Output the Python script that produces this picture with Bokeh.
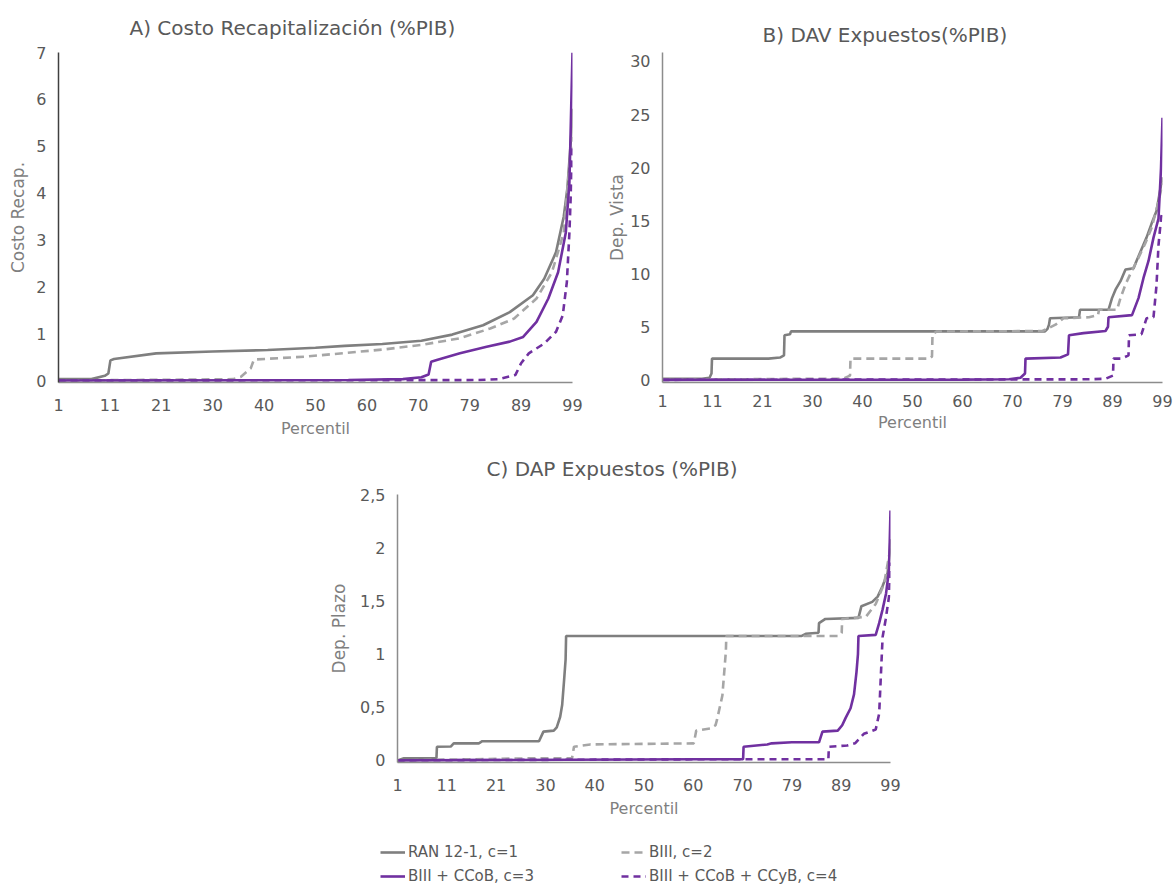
from bokeh.plotting import figure
from bokeh.layouts import row
from bokeh.models import Range1d, FixedTicker, Legend, LegendItem
from bokeh.embed import file_html
from bokeh.resources import INLINE

FONT = "DejaVu Sans"
TXT = "#595959"
AXT = "#7f7f7f"
C_RAN = "#7f7f7f"
C_B3 = "#a6a6a6"
C_PUR = "#7030a0"
STYLES = [(C_RAN, None), (C_B3, "8 5"), (C_PUR, None), (C_PUR, "7 5")]

SERIES_NAMES = ["RAN 12-1, c=1", "BIII, c=2", "BIII + CCoB, c=3", "BIII + CCoB + CCyB, c=4"]
X_TICKS = [0, 10, 20, 30, 40, 50, 60, 70, 80, 90, 100]
X_TICK_LABELS = ["1", "11", "21", "30", "40", "50", "60", "70", "79", "89", "99"]

# ---------------- Panel A: Costo Recapitalizacion ----------------
A_RAN_X = [0, 6.4, 9, 9.7, 10.1, 10.8, 19, 30, 40.7, 50, 55.7, 63, 70.6, 76.6, 82.6, 87.8, 92.3, 94.5, 96.8, 98.3, 99, 99.8, 100]
A_RAN_Y = [0.03, 0.03, 0.1, 0.15, 0.43, 0.46, 0.58, 0.62, 0.65, 0.7, 0.74, 0.78, 0.85, 0.98, 1.18, 1.46, 1.82, 2.17, 2.74, 3.5, 4.1, 5.3, 5.8]
A_B3_X = [0, 25, 34, 35.5, 37.4, 38, 38.5, 48, 63, 70.6, 78, 84, 88.6, 93, 96, 98.3, 99.4, 100]
A_B3_Y = [0, 0.02, 0.03, 0.08, 0.26, 0.44, 0.45, 0.51, 0.66, 0.76, 0.9, 1.11, 1.32, 1.75, 2.31, 3.16, 4.6, 5.2]
A_CCOB_X = [0, 56.4, 67, 70.6, 72, 72.5, 73.6, 78.1, 83.3, 87.8, 90.4, 93, 95.3, 97.2, 98.7, 99.4, 100]
A_CCOB_Y = [0, 0.01, 0.03, 0.07, 0.13, 0.4, 0.44, 0.58, 0.72, 0.83, 0.93, 1.25, 1.75, 2.31, 3.16, 4.22, 7.0]
A_CCYB_X = [0, 81.8, 85.6, 88.9, 90, 91.5, 94.5, 96.8, 98.1, 98.9, 99.4, 100]
A_CCYB_Y = [0, 0.01, 0.03, 0.12, 0.37, 0.58, 0.79, 1.04, 1.39, 2.1, 3.16, 5.0]
A_Y_TICKS = [0, 1, 2, 3, 4, 5, 6, 7]

# ---------------- Panel B: DAV Expuestos ----------------
B_RAN_X = [0, 7.9, 9.4, 9.8, 9.9, 21.2, 23.5, 24.3, 24.4, 25.5, 25.7, 76.5, 77.0, 77.3, 77.5, 83.3, 83.5, 89.2, 89.9, 90.6, 91.6, 92.6, 94.2, 94.8, 95.8, 96.8, 97.8, 98.8, 99.5, 100]
B_RAN_Y = [0.1, 0.1, 0.2, 0.6, 2.0, 2.0, 2.1, 2.3, 4.2, 4.3, 4.57, 4.57, 4.8, 5.2, 5.8, 5.9, 6.6, 6.6, 7.7, 8.5, 9.3, 10.4, 10.5, 11.2, 12.3, 13.4, 14.7, 15.9, 17.8, 19.1]
B_B3_X = [0, 27.8, 36.1, 37.5, 37.6, 53.4, 53.9, 54.0, 54.8, 76.0, 78.6, 80.2, 85.3, 87.1, 87.3, 90.9, 91.6, 92.6, 93.9, 95.2, 96.5, 97.8, 99.2, 100]
B_B3_Y = [0, 0.1, 0.1, 0.4, 2.0, 2.0, 2.2, 4.3, 4.55, 4.6, 5.2, 5.8, 5.9, 6.1, 6.6, 6.6, 7.7, 9.0, 10.3, 11.5, 12.8, 14.3, 16.8, 18.5]
B_CCOB_X = [0, 60, 69.3, 71.6, 72.5, 72.6, 79.6, 81.1, 81.3, 84.2, 88.6, 89.1, 89.2, 93.9, 95.2, 96.2, 97.2, 98.2, 99.2, 99.7, 100]
B_CCOB_Y = [0, 0.02, 0.05, 0.2, 0.6, 2.0, 2.1, 2.4, 4.2, 4.4, 4.6, 5.0, 5.9, 6.1, 7.7, 9.6, 11.2, 13.4, 15.2, 19.9, 24.7]
B_CCYB_X = [0, 84.7, 88.6, 90.1, 90.2, 91.8, 93.2, 93.3, 95.8, 96.8, 98.2, 98.8, 99.2, 99.7, 100]
B_CCYB_Y = [0, 0.05, 0.1, 0.4, 2.0, 2.0, 2.3, 4.2, 4.3, 5.8, 5.9, 8.9, 12.7, 15.2, 16.0]
B_Y_TICKS = [0, 5, 10, 15, 20, 25, 30]

# ---------------- Panel C: DAP Expuestos ----------------
C_RAN_X = [0, 1.3, 7.9, 8.0, 10.8, 11.4, 16.5, 17.2, 28.7, 29.6, 31.7, 32.3, 33.0, 33.4, 33.8, 34.1, 34.2, 82.0, 82.8, 85.4, 85.5, 86.8, 93.5, 94.1, 96.3, 97.4, 98.4, 99.4, 99.8, 100]
C_RAN_Y = [0, 0.02, 0.02, 0.128, 0.13, 0.16, 0.16, 0.18, 0.18, 0.27, 0.28, 0.31, 0.41, 0.52, 0.76, 0.95, 1.17, 1.17, 1.19, 1.2, 1.29, 1.33, 1.34, 1.45, 1.49, 1.54, 1.64, 1.76, 1.92, 2.08]
C_B3_X = [0, 28.3, 35.4, 35.8, 39.1, 60.1, 60.6, 63.5, 64.5, 64.8, 65.9, 66.6, 66.7, 89.5, 90.1, 90.2, 95.0, 97.0, 98.7, 100]
C_B3_Y = [0, 0.02, 0.02, 0.128, 0.15, 0.16, 0.28, 0.3, 0.33, 0.38, 0.61, 1.02, 1.17, 1.17, 1.2, 1.33, 1.35, 1.47, 1.66, 2.0]
C_CCOB_X = [0, 60, 70.1, 70.2, 75.0, 75.9, 80.0, 85.5, 86.2, 89.3, 90.2, 90.9, 91.9, 92.6, 93.1, 93.4, 93.5, 97.0, 97.7, 98.4, 99.1, 99.7, 100]
C_CCOB_Y = [0, 0.01, 0.01, 0.128, 0.15, 0.16, 0.17, 0.17, 0.27, 0.28, 0.33, 0.4, 0.49, 0.62, 0.83, 1.0, 1.17, 1.18, 1.29, 1.42, 1.57, 1.79, 2.35]
C_CCYB_X = [0, 60, 87.4, 87.5, 91.2, 92.8, 94.6, 97.0, 97.7, 98.0, 98.4, 99.0, 99.7, 100]
C_CCYB_Y = [0, 0.01, 0.01, 0.128, 0.14, 0.16, 0.25, 0.29, 0.44, 0.75, 1.16, 1.32, 1.54, 1.86]
C_Y_TICKS = [0, 0.5, 1, 1.5, 2, 2.5]
C_Y_TICK_LABELS = ["0", "0,5", "1", "1,5", "2", "2,5"]

C_SERIES = [(C_RAN_X, C_RAN_Y), (C_B3_X, C_B3_Y), (C_CCOB_X, C_CCOB_Y), (C_CCYB_X, C_CCYB_Y)]


def add_lines(p, series):
    renderers = []
    for (xs, ys), (col, dash) in zip(series, STYLES):
        kw = dict(line_color=col, line_width=2.6)
        if dash:
            kw["line_dash"] = dash
        renderers.append(p.line(xs, ys, **kw))
    return renderers


def make_panel(title, title_offset, title_standoff, ylabel, ylabel_standoff, y_start, y_end,
               y_ticks, y_labels, series, w, h, bl, br, bt, bb, yaxis_color,
               xlab_standoff, xtitle_standoff):
    p = figure(width=w, height=h,
               min_border_left=bl, min_border_right=br, min_border_top=bt, min_border_bottom=bb,
               x_range=Range1d(0, 100), y_range=Range1d(y_start, y_end),
               output_backend="svg", toolbar_location=None, title=title)
    p.outline_line_color = None
    p.border_fill_color = "white"
    p.background_fill_color = "white"
    p.grid.visible = False
    p.title.text_font = FONT
    p.title.text_font_size = "20px"
    p.title.text_font_style = "normal"
    p.title.text_color = TXT
    p.title.align = "left"
    p.title.offset = title_offset
    p.title.standoff = title_standoff

    for ax in (p.xaxis[0], p.yaxis[0]):
        ax.major_tick_line_color = None
        ax.minor_tick_line_color = None
        ax.major_tick_out = 0
        ax.major_tick_in = 0
        ax.major_label_text_font = FONT
        ax.major_label_text_font_size = "16px"
        ax.major_label_text_color = TXT
        ax.axis_label_text_font = FONT
        ax.axis_label_text_font_style = "normal"
        ax.axis_label_text_color = AXT

    p.xaxis.ticker = FixedTicker(ticks=X_TICKS)
    p.xaxis.major_label_overrides = dict(zip(X_TICKS, X_TICK_LABELS))
    p.xaxis.axis_line_color = "#8c8c8c"
    p.xaxis.axis_line_width = 1.5
    p.xaxis.major_label_standoff = xlab_standoff
    p.xaxis.axis_label = "Percentil"
    p.xaxis.axis_label_standoff = xtitle_standoff
    p.xaxis.axis_label_text_font_size = "16px"

    p.yaxis.ticker = FixedTicker(ticks=y_ticks)
    p.yaxis.major_label_overrides = dict(zip(y_ticks, y_labels))
    p.yaxis.axis_line_color = yaxis_color
    p.yaxis.axis_line_width = 1.5
    p.yaxis.major_label_standoff = 12
    p.yaxis.axis_label = ylabel
    p.yaxis.axis_label_standoff = ylabel_standoff
    p.yaxis.axis_label_text_font_size = "17px"

    add_lines(p, series)
    return p


pA = make_panel("A) Costo Recapitalización (%PIB)", 71, 26, "Costo Recap.", 5, -0.042, 7,
                A_Y_TICKS, [str(t) for t in A_Y_TICKS],
                [(A_RAN_X, A_RAN_Y), (A_B3_X, A_B3_Y), (A_CCOB_X, A_CCOB_Y), (A_CCYB_X, A_CCYB_Y)],
                586, 440, 58, 14, 52, 56, "#404040", 16, 5)

pB = make_panel("B) DAV Expuestos(%PIB)", 100, 12, "Dep. Vista", 0, -0.25, 30.843,
                B_Y_TICKS, [str(t) for t in B_Y_TICKS],
                [(B_RAN_X, B_RAN_Y), (B_B3_X, B_B3_Y), (B_CCOB_X, B_CCOB_Y), (B_CCYB_X, B_CCYB_Y)],
                588, 440, 76, 12, 52, 56, "#8c8c8c", 12, 3)

pC = make_panel("C) DAP Expuestos (%PIB)", 89, 28, "Dep. Plazo", 8, -0.02, 2.5,
                C_Y_TICKS, C_Y_TICK_LABELS, C_SERIES,
                910, 380, 397, 20, 54, 56, "#8c8c8c", 16, 5)

# ---------------- Shared legend strip (its lines lie outside its visible range) ----------------
pL = figure(width=1174, height=66, min_border=0, x_range=Range1d(0, 100), y_range=Range1d(-3, -2),
            x_axis_location=None, y_axis_location=None,
            output_backend="svg", toolbar_location=None)
pL.outline_line_color = None
pL.grid.visible = False
pL.border_fill_color = "white"
rL = add_lines(pL, C_SERIES)

legend = Legend(items=[LegendItem(label=n, renderers=[r]) for n, r in zip(SERIES_NAMES, rL)],
                orientation="horizontal", ncols=2, location=(380, 1),
                border_line_color=None, background_fill_alpha=0,
                padding=0, margin=0, spacing=6,
                glyph_width=25, glyph_height=18, label_height=18,
                label_standoff=3, label_width=207,
                label_text_font=FONT, label_text_font_size="15px", label_text_color=TXT)
pL.add_layout(legend, "center")

open("out.html", "w").write(file_html([row(pA, pB), pC, pL], INLINE))
